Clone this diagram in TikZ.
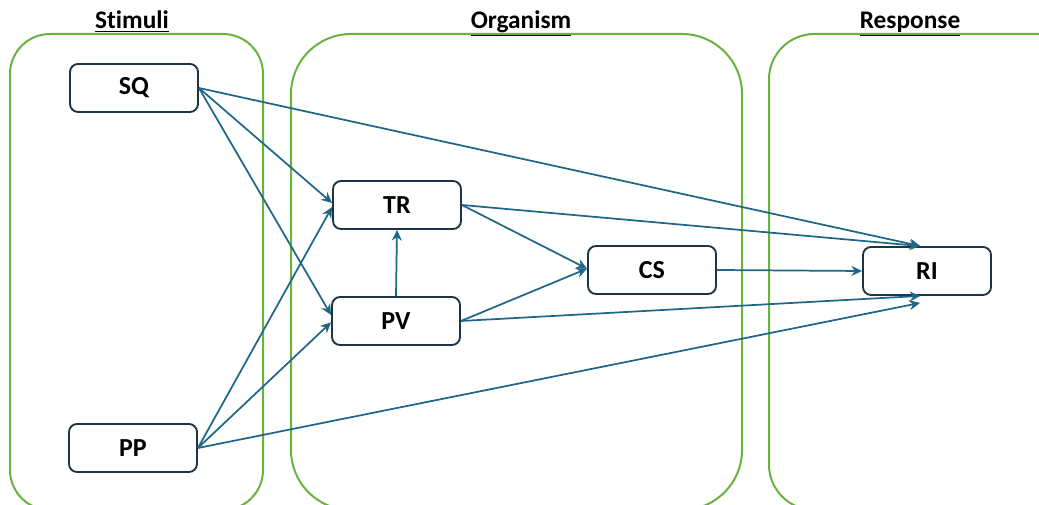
\documentclass[tikz,border=0pt]{standalone}
\usepackage{fontspec}
\setmainfont[Ligatures=NoCommon]{Carlito}
\usetikzlibrary{arrows.meta}
\definecolor{grp}{HTML}{6AB23F}
\definecolor{arr}{HTML}{1F6788}
\definecolor{bdr}{HTML}{1E3444}
\tikzset{
  grpbox/.style={draw=grp, line width=1.5pt},
  var/.style={draw=bdr, line width=1.4pt, rounded corners=6pt, fill=white,
    minimum width=96pt, minimum height=36pt, inner sep=0pt,
    font=\fontsize{19.5}{22}\selectfont\bfseries},
  ttl/.style={font=\fontsize{19}{22}\selectfont\bfseries, inner sep=0pt, anchor=base},
  link/.style={draw=arr, line width=1.3pt, -{Stealth[length=8pt,width=7.5pt]}}
}
\begin{document}
\begin{tikzpicture}[x=0.75pt,y=-0.75pt]
\useasboundingbox (0,0) rectangle (1039,505);
\clip (0,0) rectangle (1039,505);
% group boxes
\draw[grpbox, rounded corners=30pt] (10,34) rectangle (263,510);
\draw[grpbox, rounded corners=45pt] (291,34) rectangle (742,510);
\draw[grpbox, rounded corners=34pt] (769,34) rectangle (1100,510);
% titles
\node[ttl] (tS) at (132,29) {\underline{Stimuli}};
\node[ttl] (tO) at (521,29) {\underline{Organism}};
\node[ttl] (tR) at (910,29) {\underline{Response}};
% nodes
\node[var] (SQ) at (134,88) {SQ};
\node[var] (PP) at (133,448) {PP};
\node[var] (TR) at (397,205) {TR};
\node[var] (PV) at (396,321) {PV};
\node[var] (CS) at (652,270) {CS};
\node[var] (RI) at (927,271) {RI};
% links
\draw[link] (SQ.east) -- ([yshift=1.5pt]TR.west);
\draw[link] (SQ.east) -- ([yshift=4.5pt]PV.west);
\draw[link] (SQ.east) -- ([xshift=-5pt]RI.north);
\draw[link] (PP.east) -- ([yshift=-1.5pt]TR.west);
\draw[link] (PP.east) -- ([yshift=-1pt]PV.west);
\draw[link] (PP.east) -- ([shift={(-7,7)}]RI.south);
\draw[link] (PV.north) -- (TR.south);
\draw[link] (TR.east) -- ([yshift=1pt]CS.west);
\draw[link] (PV.east) -- ([yshift=1pt]CS.west);
\draw[link] (TR.east) -- ([xshift=-5pt]RI.north);
\draw[link] (PV.east) -- ([xshift=-5pt]RI.south);
\draw[link] (CS.east) -- (RI.west);
\end{tikzpicture}
\end{document}
